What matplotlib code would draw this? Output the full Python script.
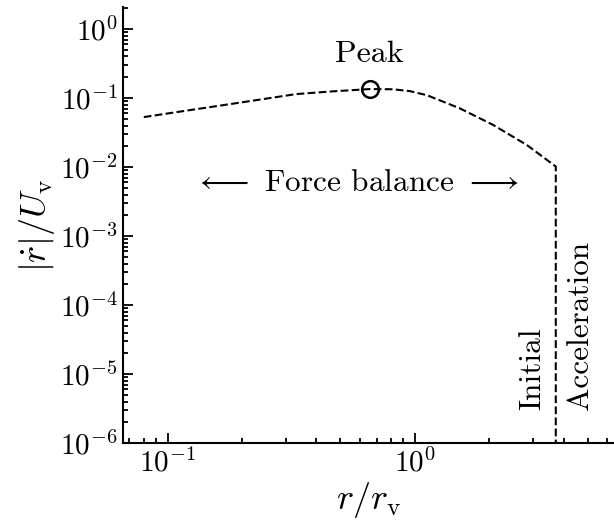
import numpy as np
import matplotlib
matplotlib.use("Agg")
import matplotlib.pyplot as plt

plt.rcParams['font.family'] = 'serif'
plt.rcParams['font.serif'] = ['cmr10']
plt.rcParams['mathtext.fontset'] = 'cm'
plt.rcParams['axes.formatter.use_mathtext'] = True

# speed profile
r = [0.08, 0.12, 0.18, 0.25, 0.33, 0.45, 0.657, 0.815, 0.955, 1.12, 1.52, 2.07, 2.84,
     3.72, 3.72]
rdot = [0.053, 0.066, 0.082, 0.098, 0.114, 0.124, 0.135, 0.134, 0.126, 0.110, 0.071,
        0.041, 0.0209, 0.0102, 1e-6]
peak_r = 0.657
peak_v = 0.135
xticks = [0.1, 1.0]
yticks = [1e-6, 1e-5, 1e-4, 1e-3, 1e-2, 1e-1, 1e0]

fig = plt.figure(figsize=(6.14, 5.22), dpi=100)
ax = fig.add_axes([0.2, 0.151, 0.8, 0.836])

ax.plot(r, rdot, 'k--', lw=1.5)
ax.plot([peak_r], [peak_v], 'o', mfc='none', mec='k', ms=12, mew=1.8)

ax.set_xscale('log')
ax.set_yscale('log')
ax.set_xlim(0.0658, 6.4)
ax.set_ylim(1e-6, 2.1)
ax.set_xticks(xticks)
ax.set_yticks(yticks)
ax.yaxis.set_minor_locator(matplotlib.ticker.LogLocator(base=10, subs=np.arange(2, 10), numticks=20))
ax.xaxis.set_minor_formatter(matplotlib.ticker.NullFormatter())
ax.yaxis.set_minor_formatter(matplotlib.ticker.NullFormatter())

ax.text(peak_r, 0.27, 'Peak', ha='center', va='bottom', fontsize=23)
ax.text(0.58, 0.0059, r'$\longleftarrow$ Force balance $\longrightarrow$',
        ha='center', va='center', fontsize=22.5)
ax.text(3.0, 3e-6, 'Initial', rotation=90, ha='center', va='bottom', fontsize=22.5)
ax.text(4.66, 3e-6, 'Acceleration', rotation=90, ha='center', va='bottom', fontsize=22.5)

ax.set_xlabel(r'$r/r_\mathrm{v}$', fontsize=26, labelpad=2)
ax.set_ylabel(r'$|\dot{r}|/U_\mathrm{v}$', fontsize=26, labelpad=2)

ax.spines['top'].set_visible(False)
ax.spines['right'].set_visible(False)
for s in ['left', 'bottom']:
    ax.spines[s].set_linewidth(1.5)
ax.tick_params(which='both', direction='in', labelsize=21, width=1.3)
ax.tick_params(which='major', length=7)
ax.tick_params(which='minor', length=3.5)

fig.savefig('out.png', dpi=100)
